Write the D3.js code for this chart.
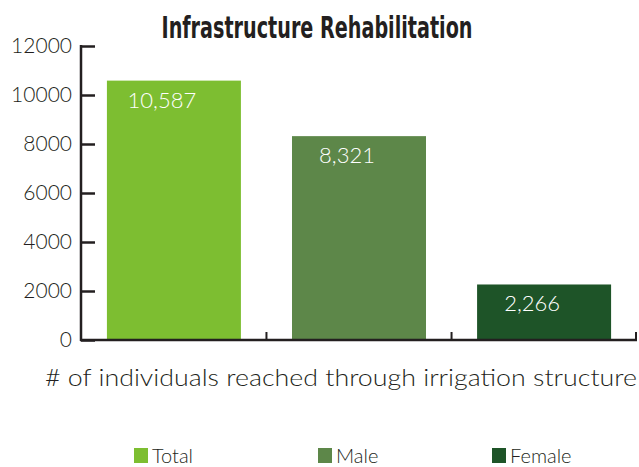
<!DOCTYPE html>
<html>
<head>
<meta charset="utf-8">
<script src="https://cdn.jsdelivr.net/npm/d3@7"></script>
<style>
  body { margin: 0; background: #fff; }
  svg { display: block; }
  text { font-family: "Lato", "Open Sans", sans-serif; font-weight: 300; fill: #231f20; }
</style>
</head>
<body>
<svg id="chart" width="639" height="467"></svg>
<script>
const categories = ["Total", "Male", "Female"];
const values = [10587, 8321, 2266];
const colors = ["#7dbe31", "#5d8749", "#1e5428"];
const yTicks = [0, 2000, 4000, 6000, 8000, 10000, 12000];
const chartTitle = "Infrastructure Rehabilitation";
const xTitle = "# of individuals reached through irrigation structure";

const svg = d3.select("#chart");
const plotLeft = 81, plotRight = 637, plotTop = 46, plotBottom = 340;

const x = d3.scaleBand()
    .domain(categories)
    .range([plotLeft, plotRight])
    .paddingInner(0.276)
    .paddingOuter(0.14);

const y = d3.scaleLinear()
    .domain([0, 12000])
    .range([plotBottom, plotTop]);

// title
svg.append("text")
    .attr("x", 317)
    .attr("y", 38)
    .attr("text-anchor", "middle")
    .attr("textLength", 311)
    .attr("lengthAdjust", "spacingAndGlyphs")
    .style("font-family", "'Liberation Sans Narrow', 'DejaVu Sans Condensed', sans-serif")
    .style("font-weight", "bold")
    .style("font-size", "31px")
    .text(chartTitle);

// bars
svg.selectAll("rect.bar")
    .data(values)
    .enter().append("rect")
    .attr("class", "bar")
    .attr("x", (d, i) => x(categories[i]))
    .attr("y", d => y(d))
    .attr("width", x.bandwidth())
    .attr("height", d => y(0) - y(d))
    .style("fill", (d, i) => colors[i]);

// value labels
svg.selectAll("text.val")
    .data(values)
    .enter().append("text")
    .attr("class", "val")
    .attr("x", (d, i) => x(categories[i]) + x.bandwidth() / 2 - 12)
    .attr("y", d => y(d) + 27)
    .attr("text-anchor", "middle")
    .style("fill", "#fff")
    .style("font-size", "22px")
    .text(d => d3.format(",")(d));

// y axis
const yAxis = svg.append("g")
    .attr("transform", "translate(" + plotLeft + ",0)")
    .call(d3.axisLeft(y).tickValues(yTicks).tickSize(-14).tickPadding(9).tickFormat(d3.format("d")));
yAxis.select(".domain").remove();
yAxis.selectAll(".tick line").style("stroke", "#231f20").style("stroke-width", 2.5);
yAxis.selectAll(".tick text")
    .style("font-size", "21px")
    .style("fill", "#231f20")
    .style("font-family", "Lato, 'Open Sans', sans-serif")
    .style("font-weight", 300);
yAxis.append("line")
    .attr("x1", 0).attr("x2", 0)
    .attr("y1", plotTop - 1).attr("y2", plotBottom + 1)
    .style("stroke", "#231f20").style("stroke-width", 2.5);

// x axis
const xAxis = svg.append("g").attr("transform", "translate(0," + plotBottom + ")");
xAxis.append("line")
    .attr("x1", plotLeft - 1).attr("x2", plotRight)
    .attr("y1", 0).attr("y2", 0)
    .style("stroke", "#231f20").style("stroke-width", 2.5);
const sepX = c => Math.min(x(c) + x.bandwidth() + (x.step() - x.bandwidth()) / 2, plotRight - 1);
xAxis.selectAll("line.sep")
    .data(categories)
    .enter().append("line")
    .attr("class", "sep")
    .attr("x1", sepX)
    .attr("x2", sepX)
    .attr("y1", 0).attr("y2", -8)
    .style("stroke", "#231f20").style("stroke-width", 2);

svg.append("text")
    .attr("x", 45)
    .attr("y", 386)
    .attr("textLength", 592)
    .attr("lengthAdjust", "spacingAndGlyphs")
    .style("font-size", "23px")
    .text(xTitle);

// legend
const legendX = [134, 318, 492];
const leg = svg.selectAll("g.leg")
    .data(categories)
    .enter().append("g")
    .attr("class", "leg")
    .attr("transform", (d, i) => "translate(" + legendX[i] + ",448)");
leg.append("rect")
    .attr("width", 14).attr("height", 15)
    .style("fill", (d, i) => colors[i]);
leg.append("text")
    .attr("x", 18)
    .attr("y", 15)
    .style("font-size", "20px")
    .text(d => d);
</script>
</body>
</html>
